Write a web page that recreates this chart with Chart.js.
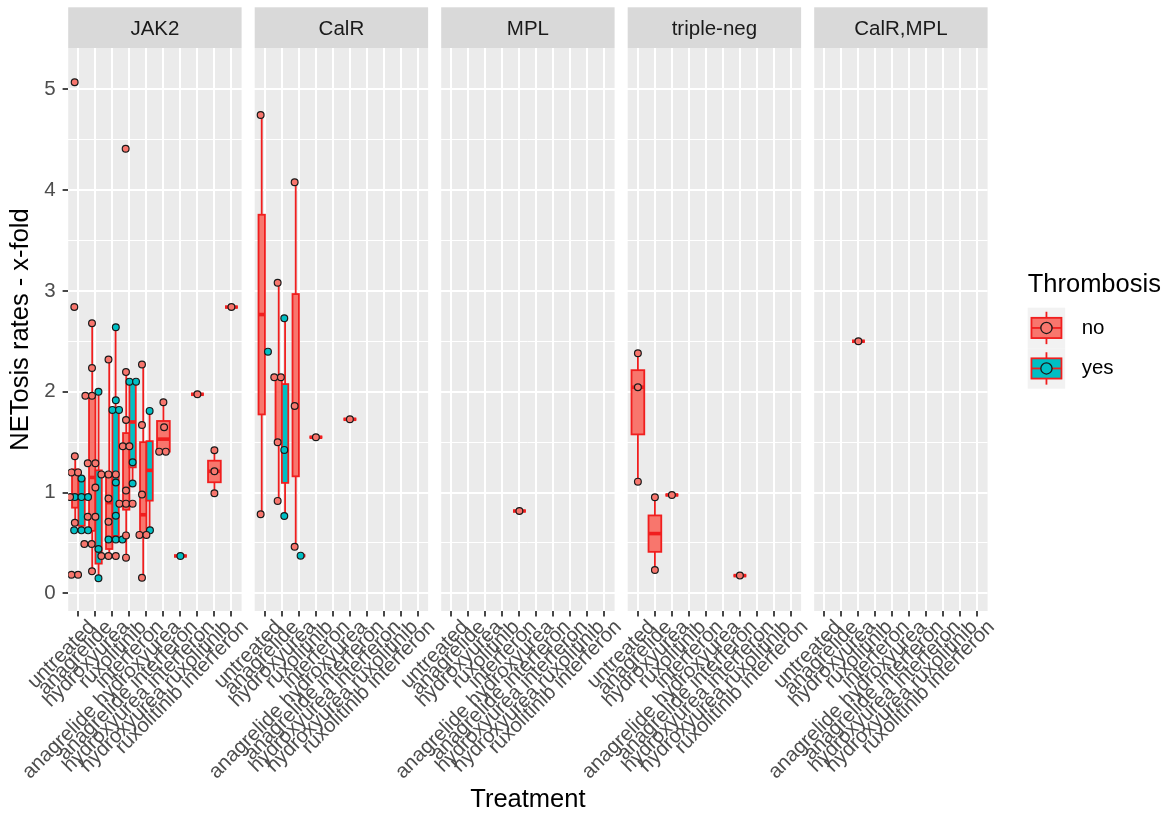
<!DOCTYPE html>
<html>
<head>
<meta charset="utf-8">
<title>NETosis rates by treatment</title>
<script src="https://cdn.jsdelivr.net/npm/chart.js@4.4.1/dist/chart.umd.min.js"></script>
<style>
  html, body { margin: 0; padding: 0; background: #ffffff; }
  canvas { display: block; }
</style>
</head>
<body>
<canvas id="netosis" width="1171" height="822"></canvas>
<script>
// ---- data ----------------------------------------------------------------
const facets = ['JAK2', 'CalR', 'MPL', 'triple-neg', 'CalR,MPL'];
const treatments = [
  'untreated', 'anagrelide', 'hydroxyurea', 'ruxolitinib', 'interferon',
  'anagrelide hydroxyurea', 'anagrelide interferon', 'hydroxyurea interferon',
  'hydroxyurea ruxolitinib', 'ruxolitinib interferon'
];
const thrombosisLevels = ['no', 'yes'];
const yTickValues = [0, 1, 2, 3, 4, 5];

// box statistics: [treatment, thrombosis, lower whisker, Q1, median, Q3, upper whisker]
const boxesJAK2 = [
  [0, 'no', 0.70, 0.85, 0.955, 1.23, 1.36],
  [0, 'yes', 0.625, 0.67, 0.955, 1.14, 1.14],
  [1, 'no', 0.22, 0.62, 1.15, 1.96, 2.68],
  [1, 'yes', 0.15, 0.295, 0.44, 1.22, 2.00],
  [2, 'no', 0.37, 0.44, 0.90, 1.18, 2.32],
  [2, 'yes', 0.535, 0.57, 1.10, 1.83, 2.64],
  [3, 'no', 0.354, 0.83, 1.02, 1.59, 2.195],
  [3, 'yes', 1.09, 1.25, 1.70, 2.10, 2.10],
  [4, 'no', 0.155, 0.58, 0.78, 1.50, 2.27],
  [4, 'yes', 0.625, 0.92, 1.22, 1.51, 1.81],
  [5, 'no', 1.406, 1.406, 1.53, 1.71, 1.896],
  [6, 'yes', 0.371, 0.371, 0.371, 0.371, 0.371],
  [7, 'no', 1.975, 1.975, 1.975, 1.975, 1.975],
  [8, 'no', 0.993, 1.102, 1.211, 1.316, 1.42],
  [9, 'no', 2.84, 2.84, 2.84, 2.84, 2.84]
];
const boxesCalR = [
  [0, 'no', 0.785, 1.775, 2.766, 3.756, 4.746],
  [0, 'yes', 2.398, 2.398, 2.398, 2.398, 2.398],
  [1, 'no', 0.917, 1.499, 2.144, 2.144, 3.082],
  [1, 'yes', 0.768, 1.096, 1.423, 2.076, 2.729],
  [2, 'no', 0.463, 1.161, 1.859, 2.969, 4.078],
  [2, 'yes', 0.374, 0.374, 0.374, 0.374, 0.374],
  [3, 'no', 1.549, 1.549, 1.549, 1.549, 1.549],
  [5, 'no', 1.727, 1.727, 1.727, 1.727, 1.727]
];
const boxesMPL = [
  [4, 'no', 0.817, 0.817, 0.817, 0.817, 0.817]
];
const boxesTripleNeg = [
  [0, 'no', 1.108, 1.577, 2.045, 2.214, 2.382],
  [1, 'no', 0.232, 0.412, 0.593, 0.773, 0.953],
  [2, 'no', 0.976, 0.976, 0.976, 0.976, 0.976],
  [6, 'no', 0.176, 0.176, 0.176, 0.176, 0.176]
];
const boxesCalRMPL = [
  [2, 'no', 2.501, 2.501, 2.501, 2.501, 2.501]
];

// individual samples: [treatment, thrombosis, value, horizontal jitter]
const pointsJAK2 = [
  [0, 'no', 5.07, -0.22], [0, 'no', 2.84, -0.24], [0, 'no', 1.36, -0.21],
  [0, 'no', 1.20, -0.41], [0, 'no', 1.20, -0.02], [0, 'no', 0.955, -0.49],
  [0, 'no', 0.70, -0.21], [0, 'no', 0.185, -0.41], [0, 'no', 0.185, -0.02],
  [0, 'yes', 1.14, 0.18], [0, 'yes', 0.955, -0.21], [0, 'yes', 0.955, 0.18],
  [0, 'yes', 0.955, 0.57], [0, 'yes', 0.625, -0.25], [0, 'yes', 0.625, 0.18],
  [0, 'yes', 0.625, 0.57],
  [1, 'no', 2.68, -0.20], [1, 'no', 2.235, -0.20], [1, 'no', 1.96, -0.59],
  [1, 'no', 1.96, -0.20], [1, 'no', 1.29, -0.45], [1, 'no', 1.29, 0.0],
  [1, 'no', 1.05, 0.0], [1, 'no', 0.76, -0.45], [1, 'no', 0.76, 0.0],
  [1, 'no', 0.49, -0.65], [1, 'no', 0.49, -0.22], [1, 'no', 0.22, -0.20],
  [1, 'yes', 2.00, 0.18], [1, 'yes', 0.44, 0.18], [1, 'yes', 0.15, 0.18],
  [2, 'no', 2.32, -0.23], [2, 'no', 1.18, -0.65], [2, 'no', 1.18, -0.23],
  [2, 'no', 1.18, 0.20], [2, 'no', 0.94, -0.23], [2, 'no', 0.71, -0.23],
  [2, 'no', 0.37, -0.65], [2, 'no', 0.37, -0.23], [2, 'no', 0.37, 0.20],
  [2, 'yes', 2.64, 0.20], [2, 'yes', 1.915, 0.20], [2, 'yes', 1.82, 0.0],
  [2, 'yes', 1.82, 0.39], [2, 'yes', 1.10, 0.20], [2, 'yes', 0.77, 0.20],
  [2, 'yes', 0.535, -0.23], [2, 'yes', 0.535, 0.20], [2, 'yes', 0.535, 0.59],
  [3, 'no', 4.41, -0.22], [3, 'no', 2.195, -0.20], [3, 'no', 1.72, -0.20],
  [3, 'no', 1.46, -0.39], [3, 'no', 1.46, 0.0], [3, 'no', 1.02, -0.20],
  [3, 'no', 0.89, -0.59], [3, 'no', 0.89, -0.20], [3, 'no', 0.89, 0.19],
  [3, 'no', 0.575, -0.20], [3, 'no', 0.354, -0.20],
  [3, 'yes', 2.10, 0.0], [3, 'yes', 2.10, 0.39], [3, 'yes', 1.30, 0.19],
  [3, 'yes', 1.09, 0.19],
  [4, 'no', 2.27, -0.26], [4, 'no', 1.67, -0.26], [4, 'no', 0.98, -0.26],
  [4, 'no', 0.58, -0.41], [4, 'no', 0.58, 0.0], [4, 'no', 0.155, -0.26],
  [4, 'yes', 1.81, 0.19], [4, 'yes', 0.625, 0.21],
  [5, 'no', 1.896, 0.0], [5, 'no', 1.648, 0.04], [5, 'no', 1.406, -0.25],
  [5, 'no', 1.406, 0.14],
  [6, 'yes', 0.371, 0.0],
  [7, 'no', 1.975, 0.0],
  [8, 'no', 1.42, 0.0], [8, 'no', 1.211, 0.0], [8, 'no', 0.993, 0.0],
  [9, 'no', 2.84, 0.0]
];
const pointsCalR = [
  [0, 'no', 4.746, -0.25], [0, 'no', 0.785, -0.25], [0, 'yes', 2.398, 0.18],
  [1, 'no', 3.082, -0.25], [1, 'no', 2.144, -0.45], [1, 'no', 2.144, -0.06],
  [1, 'no', 1.499, -0.25], [1, 'no', 0.917, -0.25],
  [1, 'yes', 2.729, 0.14], [1, 'yes', 1.423, 0.14], [1, 'yes', 0.768, 0.14],
  [2, 'no', 4.078, -0.25], [2, 'no', 1.859, -0.25], [2, 'no', 0.463, -0.25],
  [2, 'yes', 0.374, 0.10],
  [3, 'no', 1.549, 0.0],
  [5, 'no', 1.727, 0.0]
];
const pointsMPL = [
  [4, 'no', 0.817, 0.0]
];
const pointsTripleNeg = [
  [0, 'no', 2.382, 0.0], [0, 'no', 2.045, 0.0], [0, 'no', 1.108, 0.0],
  [1, 'no', 0.953, 0.0], [1, 'no', 0.232, 0.0],
  [2, 'no', 0.976, 0.0],
  [6, 'no', 0.176, 0.0]
];
const pointsCalRMPL = [
  [2, 'no', 2.501, 0.0]
];

const boxesByFacet = [boxesJAK2, boxesCalR, boxesMPL, boxesTripleNeg, boxesCalRMPL];
const pointsByFacet = [pointsJAK2, pointsCalR, pointsMPL, pointsTripleNeg, pointsCalRMPL];

// ---- layout & style ------------------------------------------------------
const FONT = "'Liberation Sans', Arial, Helvetica, sans-serif";
const TEXT_SIZE = 20.5;     // tick, strip and legend labels
const TITLE_SIZE = 25.5;    // axis and legend titles
const PANEL_SPAN = treatments.length + 0.2;   // discrete axis with 0.6 padding each side
const PANEL_GAP = 0.77;                        // space between facets, in category units
const DODGE = 0.75;                            // total box width per category
const X_MAX = (facets.length - 1) * (PANEL_SPAN + PANEL_GAP) + PANEL_SPAN;
const Y_MIN = -0.175, Y_MAX = 5.41;
const AREA = { left: 68.2, top: 48, right: 987.6, bottom: 611 };
const STRIP_TOP = 7.3;
const fills = { no: '#F8766D', yes: '#00BFC4' };
const BOX_LINE = '#F01E1E';
const PANEL_BG = '#EBEBEB';

Chart.defaults.font.family = FONT;

const facetStart = f => f * (PANEL_SPAN + PANEL_GAP);
const catPos = (f, t) => facetStart(f) + 0.6 + t;

const xTickValues = [];
const xTickNames = [];
facets.forEach((_, f) => treatments.forEach((name, t) => {
  xTickValues.push(catPos(f, t));
  xTickNames.push(name);
}));
const yGridValues = [];
for (let v = 0; v <= 5; v += 0.5) yGridValues.push(v);

const datasets = thrombosisLevels.map(level => ({
  label: level,
  data: pointsByFacet.flatMap((rows, f) => rows
    .filter(r => r[1] === level)
    .map(r => ({ x: catPos(f, r[0]) + r[3], y: r[2] }))),
  backgroundColor: fills[level],
  borderColor: '#1A1A1A',
  borderWidth: 1.2,
  pointRadius: 3.4,
  pointHoverRadius: 3.4
}));

function line(ctx, x0, y0, x1, y1) {
  ctx.beginPath();
  ctx.moveTo(x0, y0);
  ctx.lineTo(x1, y1);
  ctx.stroke();
}

// grey panels and facet strips
const facetPanels = {
  id: 'facetPanels',
  beforeDraw(chart) {
    const { ctx, chartArea, scales: { x } } = chart;
    ctx.save();
    ctx.fillStyle = '#ffffff';
    ctx.fillRect(0, 0, chart.width, chart.height);
    facets.forEach((name, f) => {
      const x0 = x.getPixelForValue(facetStart(f));
      const x1 = x.getPixelForValue(facetStart(f) + PANEL_SPAN);
      ctx.fillStyle = PANEL_BG;
      ctx.fillRect(x0, chartArea.top, x1 - x0, chartArea.bottom - chartArea.top);
      ctx.fillStyle = '#D9D9D9';
      ctx.fillRect(x0, STRIP_TOP, x1 - x0, chartArea.top - STRIP_TOP);
      ctx.fillStyle = '#1A1A1A';
      ctx.font = TEXT_SIZE + 'px ' + FONT;
      ctx.textAlign = 'center';
      ctx.textBaseline = 'alphabetic';
      ctx.fillText(name, (x0 + x1) / 2, 35);
    });
    ctx.restore();
  }
};

// box-and-whisker marks, dodged by thrombosis status
const boxplots = {
  id: 'boxplots',
  beforeDatasetsDraw(chart) {
    const { ctx, scales: { x, y } } = chart;
    ctx.save();
    boxesByFacet.forEach((rows, f) => {
      rows.forEach(([t, level, lo, q1, med, q3, hi]) => {
        const paired = rows.some(o => o[0] === t && o[1] !== level);
        const width = paired ? DODGE / 2 : DODGE;
        const centre = catPos(f, t) + (paired ? (level === 'no' ? -DODGE / 4 : DODGE / 4) : 0);
        const xl = x.getPixelForValue(centre - width / 2);
        const xr = x.getPixelForValue(centre + width / 2);
        const xc = x.getPixelForValue(centre);
        const pLo = y.getPixelForValue(lo), pQ1 = y.getPixelForValue(q1);
        const pMed = y.getPixelForValue(med), pQ3 = y.getPixelForValue(q3);
        const pHi = y.getPixelForValue(hi);
        ctx.strokeStyle = BOX_LINE;
        ctx.lineWidth = 1.8;
        ctx.lineCap = 'butt';
        line(ctx, xc, pHi, xc, pQ3);
        line(ctx, xc, pQ1, xc, pLo);
        ctx.fillStyle = fills[level];
        ctx.fillRect(xl, pQ3, xr - xl, pQ1 - pQ3);
        ctx.strokeRect(xl, pQ3, xr - xl, pQ1 - pQ3);
        ctx.lineWidth = 3.6;
        line(ctx, xl, pMed, xr, pMed);
      });
    });
    ctx.restore();
  }
};

// rotated treatment labels and the Thrombosis legend
const labelsAndLegend = {
  id: 'labelsAndLegend',
  afterDraw(chart) {
    const { ctx, scales: { x } } = chart;
    ctx.save();
    ctx.fillStyle = '#4D4D4D';
    ctx.font = TEXT_SIZE + 'px ' + FONT;
    ctx.textAlign = 'right';
    ctx.textBaseline = 'alphabetic';
    xTickValues.forEach((v, i) => {
      ctx.save();
      ctx.translate(x.getPixelForValue(v) + 18, 628);
      ctx.rotate(-Math.PI / 4);
      ctx.fillText(xTickNames[i], 0, 0);
      ctx.restore();
    });

    const lx = 1027.7;
    ctx.fillStyle = '#000000';
    ctx.textAlign = 'left';
    ctx.font = TITLE_SIZE + 'px ' + FONT;
    ctx.fillText('Thrombosis', lx, 292.3);
    const kw = 37.5, kh = 40.5, top = 307.7;
    thrombosisLevels.forEach((level, i) => {
      const ky = top + i * kh;
      ctx.fillStyle = '#F2F2F2';
      ctx.fillRect(lx, ky, kw, kh);
      const bx0 = lx + 0.1 * kw, bx1 = lx + 0.9 * kw, cx = lx + kw / 2;
      const by0 = ky + 0.25 * kh, by1 = ky + 0.75 * kh, cy = ky + kh / 2;
      ctx.strokeStyle = BOX_LINE;
      ctx.lineWidth = 1.8;
      line(ctx, cx, ky + 0.1 * kh, cx, by0);
      line(ctx, cx, by1, cx, ky + 0.9 * kh);
      ctx.fillStyle = fills[level];
      ctx.fillRect(bx0, by0, bx1 - bx0, by1 - by0);
      ctx.strokeRect(bx0, by0, bx1 - bx0, by1 - by0);
      line(ctx, bx0, cy, bx1, cy);
      ctx.beginPath();
      ctx.arc(cx, cy, 5.6, 0, Math.PI * 2);
      ctx.fillStyle = fills[level];
      ctx.fill();
      ctx.lineWidth = 1.3;
      ctx.strokeStyle = '#1A1A1A';
      ctx.stroke();
      ctx.fillStyle = '#000000';
      ctx.font = TEXT_SIZE + 'px ' + FONT;
      ctx.textBaseline = 'middle';
      ctx.fillText(level, 1081.7, cy);
      ctx.textBaseline = 'alphabetic';
    });
    ctx.restore();
  }
};

new Chart(document.getElementById('netosis'), {
  type: 'scatter',
  data: { datasets },
  options: {
    responsive: false,
    animation: false,
    events: [],
    layout: { padding: { left: 0, top: AREA.top, right: 1171 - AREA.right, bottom: 0 } },
    plugins: { legend: { display: false }, tooltip: { enabled: false } },
    scales: {
      x: {
        type: 'linear',
        min: 0,
        max: X_MAX,
        afterBuildTicks: axis => { axis.ticks = xTickValues.map(v => ({ value: v })); },
        afterFit: axis => { axis.height = 822 - AREA.bottom; },
        ticks: { autoSkip: false, maxRotation: 0, callback: () => '' },
        grid: { color: '#ffffff', lineWidth: 2, tickColor: '#333333', tickLength: 5.6, tickWidth: 1.8 },
        border: { display: false },
        title: {
          display: true, text: 'Treatment', color: '#000000',
          font: { size: TITLE_SIZE }, padding: { top: 0, bottom: 6.5 }
        }
      },
      y: {
        min: Y_MIN,
        max: Y_MAX,
        afterBuildTicks: axis => { axis.ticks = yGridValues.map(v => ({ value: v })); },
        afterFit: axis => { axis.width = AREA.left; },
        ticks: {
          color: '#4D4D4D', font: { size: TEXT_SIZE }, padding: 7,
          callback: v => (yTickValues.includes(v) ? String(v) : '')
        },
        grid: {
          color: '#ffffff',
          lineWidth: c => (c.tick && Number.isInteger(c.tick.value) ? 2 : 1),
          tickColor: c => (c.tick && Number.isInteger(c.tick.value) ? '#333333' : 'rgba(0,0,0,0)'),
          tickLength: 5.6,
          tickWidth: 1.8
        },
        border: { display: false },
        title: {
          display: true, text: 'NETosis rates - x-fold', color: '#000000',
          font: { size: TITLE_SIZE }, padding: { top: 5.7, bottom: 0 }
        }
      }
    }
  },
  plugins: [facetPanels, boxplots, labelsAndLegend]
});
</script>
</body>
</html>
